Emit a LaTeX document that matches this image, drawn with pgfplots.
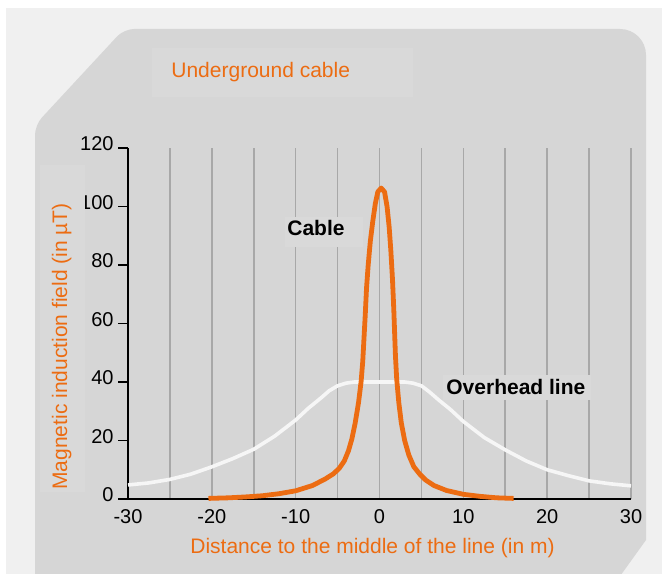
\documentclass[border=0pt]{standalone}
\usepackage{fontspec}
\setmainfont{Liberation Sans}
\usepackage{pgfplots}
\pgfplotsset{compat=1.18}

\definecolor{outerbg}{HTML}{F0F0F0}
\definecolor{panel}{HTML}{D6D6D6}
\definecolor{labelbox}{HTML}{D9D9D9}
\definecolor{gridc}{HTML}{A8A8A8}
\definecolor{orng}{RGB}{236,108,18}
\definecolor{whiteline}{HTML}{F6F6F6}

\begin{document}
% picture drawn in pixel units of the reference (y up), 1px = 0.5bp
\begin{tikzpicture}[x=0.5bp,y=0.5bp]
\useasboundingbox (0,0) rectangle (662,574);
\fill[white] (0,0) rectangle (662,574);
\fill[outerbg] (6,0) rectangle (662,566);
\fill[panel] (35,-5) [rounded corners=5bp] -- (35,449) -- (124,545) [rounded corners=13bp] -- (646,545) [sharp corners] -- (646,34) -- (618,-5) -- cycle;

\begin{axis}[
    at={(64bp,37.5bp)}, anchor=south west,
    scale only axis, width=251.5bp, height=175.5bp,
    xmin=-30, xmax=30, ymin=0, ymax=120,
    axis lines=left,
    axis line style={-},
    x axis line style={black, line width=1bp},
    y axis line style={black, line width=1.3bp},
    xtick={-30,-20,...,30},
    minor xtick={-25,-15,...,25},
    ytick={0,20,...,120},
    xmajorgrids, xminorgrids,
    major grid style={gridc, line width=0.8bp},
    minor grid style={gridc, line width=0.8bp},
    tick align=inside,
    ytick align=outside,
    major tick length=5bp,
    minor tick length=0pt,
    xtick style={draw=none},
    ytick style={black, line width=0.8bp},
    tick label style={font=\fontsize{10bp}{12bp}\selectfont, text=black},
    yticklabel style={inner sep=2bp, yshift=2bp},
    xticklabel style={yshift=-2bp},
    /pgf/number format/assume math mode=true,
    clip=false,
]
% overhead line
\addplot[whiteline, line width=1.8bp, line join=round] coordinates {
(-30,4.8) (-27.5,5.5) (-25,6.7) (-22.5,8.5) (-20,11) (-17.5,13.8) (-15,17)
(-12.5,21.5) (-10,27) (-8.5,31) (-7,34.5) (-6,37) (-5,38.7) (-4,39.6) (-3,40)
(0,40) (3,40) (4,39.6) (5,38.7) (6,36.5) (7,34) (8.5,30.5) (10,26.5)
(12.5,21) (15,16.8) (17.5,13) (20,10) (22.5,8) (25,6.2) (27.5,5.2) (30,4.5)
};
% underground cable
\addplot[orng, line width=2.4bp, line join=round] coordinates {
(-20.4,0.2) (-18,0.4) (-16,0.7) (-14,1.1) (-12,1.8) (-10,2.8) (-8,4.6)
(-6.5,6.8) (-5.5,8.6) (-4.8,10.5) (-4.2,13) (-3.7,16.5) (-3.3,20.5)
(-2.9,26) (-2.5,33) (-2.2,40) (-2.0,47) (-1.85,55) (-1.7,63) (-1.55,72)
(-1.35,80) (-1.1,88) (-0.8,95) (-0.5,101) (-0.2,105) (0.2,106.3) (0.6,105)
(0.9,100) (1.15,93) (1.35,85) (1.55,75) (1.7,65) (1.8,57) (1.9,49)
(2.05,41) (2.3,33) (2.6,26) (3.0,20) (3.5,15) (4.1,11) (4.8,8.5) (5.5,6.5)
(6.5,4.6) (8,2.9) (10,1.6) (12,0.9) (14,0.4) (16,0.2)
};
\end{axis}

% label boxes
\fill[labelbox] (152,477) rectangle (413,526);
\fill[labelbox] (285,327) rectangle (363,357);
\fill[labelbox] (443,174) rectangle (591,199);
\fill[labelbox] (40,82) rectangle (85,409);

\node[anchor=base west, inner sep=0, text=orng, font=\fontsize{10.5bp}{12bp}\selectfont] at (171,496) {Underground cable};
\node[anchor=base west, inner sep=0, text=orng, font=\fontsize{10.5bp}{12bp}\selectfont] at (190,20) {Distance to the middle of the line (in m)};
\node[anchor=base west, inner sep=0, rotate=90, text=orng, font=\fontsize{10.5bp}{12bp}\selectfont] at (67,84) {Magnetic induction field (in µT)};
\node[anchor=base west, inner sep=0, font=\fontsize{10.5bp}{12bp}\selectfont\bfseries] at (287,338) {Cable};
\node[anchor=base west, inner sep=0, font=\fontsize{10.5bp}{12bp}\selectfont\bfseries] at (446,179) {Overhead line};
\end{tikzpicture}
\end{document}
